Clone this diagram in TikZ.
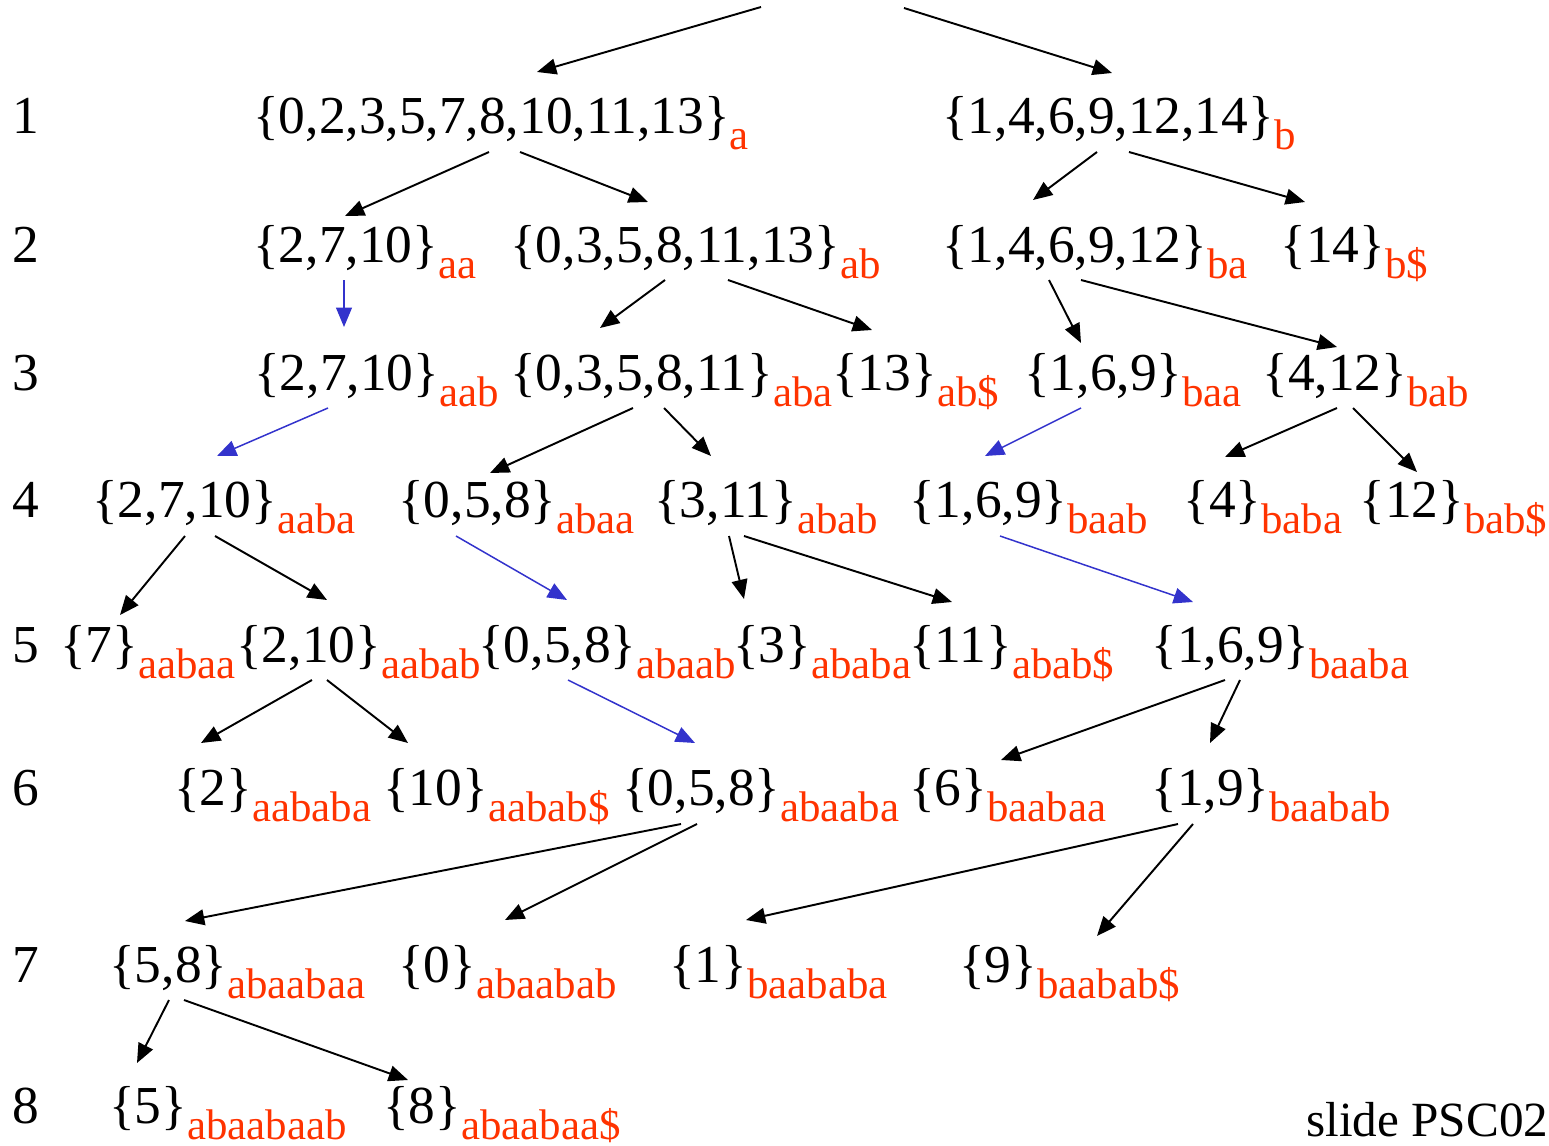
\documentclass[tikz,border=0pt]{standalone}
\usepackage{fontspec}
\setmainfont{Liberation Serif}
\usepackage{xcolor}
\definecolor{sufred}{HTML}{FF3300}
\definecolor{linkblue}{HTML}{3333CC}
\usepackage{tikz}
\usetikzlibrary{arrows.meta,calc}

\newcommand{\sfx}[1]{\raisebox{-9.5pt}{\color{sufred}\fontsize{24.4pt}{26pt}\selectfont #1}}

\begin{document}
\begin{tikzpicture}[x=0.02cm, y=-0.02cm,
  grp/.style={anchor=base west, inner sep=0pt,
              font=\fontsize{30.4pt}{32pt}\selectfont},
  lvl/.style={anchor=base west, inner sep=0pt,
              font=\fontsize{30.4pt}{32pt}\selectfont},
  arr/.style={-{Triangle[length=11pt,width=9pt]},line width=1.1pt},
  barr/.style={arr,draw=linkblue,fill=linkblue,line width=0.85pt}
]
  \useasboundingbox (0,0) rectangle (1549,1146);

  % level numbers
  \foreach \n/\y in {1/133,2/262,3/390,4/517,5/662,6/805,7/982,8/1123}
    \node[lvl] (lvl\n) at (12,\y) {\n};

  \coordinate (top1) at (761,7);
  \coordinate (top2) at (904,8);

  % level 1
  \node[grp] (a) at (253,133) {\{0,2,3,5,7,8,10,11,13\}\sfx{a}};
  \node[grp] (b) at (942,133) {\{1,4,6,9,12,14\}\sfx{b}};
  % level 2
  \node[grp] (aa) at (253,262) {\{2,7,10\}\sfx{aa}};
  \node[grp] (ab) at (510,262) {\{0,3,5,8,11,13\}\sfx{ab}};
  \node[grp] (ba) at (942,262) {\{1,4,6,9,12\}\sfx{ba}};
  \node[grp] (bS) at (1280,262) {\{14\}\sfx{b\$}};
  % level 3
  \node[grp] (aab) at (254,390) {\{2,7,10\}\sfx{aab}};
  \node[grp] (aba) at (510,390) {\{0,3,5,8,11\}\sfx{aba}};
  \node[grp] (abS) at (832,390) {\{13\}\sfx{ab\$}};
  \node[grp] (baa) at (1024,390) {\{1,6,9\}\sfx{baa}};
  \node[grp] (bab) at (1262,390) {\{4,12\}\sfx{bab}};
  % level 4
  \node[grp] (aaba) at (92,517) {\{2,7,10\}\sfx{aaba}};
  \node[grp] (abaa) at (398,517) {\{0,5,8\}\sfx{abaa}};
  \node[grp] (abab) at (654,517) {\{3,11\}\sfx{abab}};
  \node[grp] (baab) at (909,517) {\{1,6,9\}\sfx{baab}};
  \node[grp] (baba) at (1183,517) {\{4\}\sfx{baba}};
  \node[grp] (babS) at (1359,517) {\{12\}\sfx{bab\$}};
  % level 5
  \node[grp] (aabaa) at (60,662) {\{7\}\sfx{aabaa}};
  \node[grp] (aabab) at (236,662) {\{2,10\}\sfx{aabab}};
  \node[grp] (abaab) at (478,662) {\{0,5,8\}\sfx{abaab}};
  \node[grp] (ababa) at (733,662) {\{3\}\sfx{ababa}};
  \node[grp] (ababS) at (909,662) {\{11\}\sfx{abab\$}};
  \node[grp] (baaba) at (1151,662) {\{1,6,9\}\sfx{baaba}};
  % level 6
  \node[grp] (aababa) at (174,805) {\{2\}\sfx{aababa}};
  \node[grp] (aababS) at (383,805) {\{10\}\sfx{aabab\$}};
  \node[grp] (abaaba) at (622,805) {\{0,5,8\}\sfx{abaaba}};
  \node[grp] (baabaa) at (909,805) {\{6\}\sfx{baabaa}};
  \node[grp] (baabab) at (1151,805) {\{1,9\}\sfx{baabab}};
  % level 7
  \node[grp] (abaabaa) at (109,982) {\{5,8\}\sfx{abaabaa}};
  \node[grp] (abaabab) at (398,982) {\{0\}\sfx{abaabab}};
  \node[grp] (baababa) at (669,982) {\{1\}\sfx{baababa}};
  \node[grp] (baababS) at (959,982) {\{9\}\sfx{baabab\$}};
  % level 8
  \node[grp] (abaabaab) at (109,1123) {\{5\}\sfx{abaabaab}};
  \node[grp] (abaabaaS) at (383,1123) {\{8\}\sfx{abaabaa\$}};

  \node[anchor=base west, inner sep=0pt, font=\fontsize{28pt}{30pt}\selectfont]
    (slide) at (1306,1136) {slide PSC02};

  % tree edges
  \draw[arr] (top1) -- ($(a.base west)+(284,-61)$);
  \draw[arr] (top2) -- ($(b.base west)+(170,-60)$);
  \draw[arr] ($(a.base west)+(236,19)$) -- ($(aa.base west)+(92,-46)$);
  \draw[arr] ($(a.base west)+(267,19)$) -- ($(ab.base west)+(138,-60)$);
  \draw[arr] ($(b.base west)+(155,19)$) -- ($(ba.base west)+(91,-62)$);
  \draw[arr] ($(b.base west)+(187,19)$) -- ($(bS.base west)+(25,-60)$);
  \draw[arr] ($(ab.base west)+(155,18)$) -- ($(aba.base west)+(90,-62)$);
  \draw[arr] ($(ab.base west)+(218,18)$) -- ($(abS.base west)+(40,-60)$);
  \draw[arr] ($(ba.base west)+(107,18)$) -- ($(baa.base west)+(57,-47)$);
  \draw[arr] ($(ba.base west)+(139,18)$) -- ($(bab.base west)+(75,-43)$);
  \draw[arr] ($(aba.base west)+(123,18)$) -- ($(abaa.base west)+(92,-44)$);
  \draw[arr] ($(aba.base west)+(154,18)$) -- ($(abab.base west)+(57,-61)$);
  \draw[arr] ($(bab.base west)+(75,18)$) -- ($(baba.base west)+(42,-60)$);
  \draw[arr] ($(bab.base west)+(91,18)$) -- ($(babS.base west)+(58,-45)$);
  \draw[arr] ($(aaba.base west)+(93,19)$) -- ($(aabaa.base west)+(60,-47)$);
  \draw[arr] ($(aaba.base west)+(123,19)$) -- ($(aabab.base west)+(91,-62)$);
  \draw[arr] ($(abab.base west)+(75,19)$) -- ($(ababa.base west)+(11,-63)$);
  \draw[arr] ($(abab.base west)+(90,19)$) -- ($(ababS.base west)+(43,-60)$);
  \draw[arr] ($(aabab.base west)+(76,18)$) -- ($(aababa.base west)+(27,-62)$);
  \draw[arr] ($(aabab.base west)+(91,18)$) -- ($(aababS.base west)+(25,-62)$);
  \draw[arr] ($(baaba.base west)+(74,18)$) -- ($(baabaa.base west)+(92,-45)$);
  \draw[arr] ($(baaba.base west)+(89,18)$) -- ($(baabab.base west)+(59,-62)$);
  \draw[arr] ($(abaaba.base west)+(59,19)$) -- ($(abaabaa.base west)+(76,-61)$);
  \draw[arr] ($(abaaba.base west)+(75,19)$) -- ($(abaabab.base west)+(107,-62)$);
  \draw[arr] ($(baabab.base west)+(27,19)$) -- ($(baababa.base west)+(77,-62)$);
  \draw[arr] ($(baabab.base west)+(42,19)$) -- ($(baababS.base west)+(138,-46)$);
  \draw[arr] ($(abaabaa.base west)+(60,18)$) -- ($(abaabaab.base west)+(28,-60)$);
  \draw[arr] ($(abaabaa.base west)+(75,18)$) -- ($(abaabaaS.base west)+(25,-43)$);

  % blue links
  \draw[barr] ($(aa.base west)+(91,18)$) -- ($(aab.base west)+(90,-63)$);
  \draw[barr] ($(aab.base west)+(74,18)$) -- ($(aaba.base west)+(125,-61)$);
  \draw[barr] ($(baa.base west)+(57,18)$) -- ($(baab.base west)+(76,-61)$);
  \draw[barr] ($(abaa.base west)+(58,19)$) -- ($(abaab.base west)+(89,-62)$);
  \draw[barr] ($(baab.base west)+(91,19)$) -- ($(baaba.base west)+(42,-60)$);
  \draw[barr] ($(abaab.base west)+(90,18)$) -- ($(abaaba.base west)+(73,-62)$);

\end{tikzpicture}
\end{document}
